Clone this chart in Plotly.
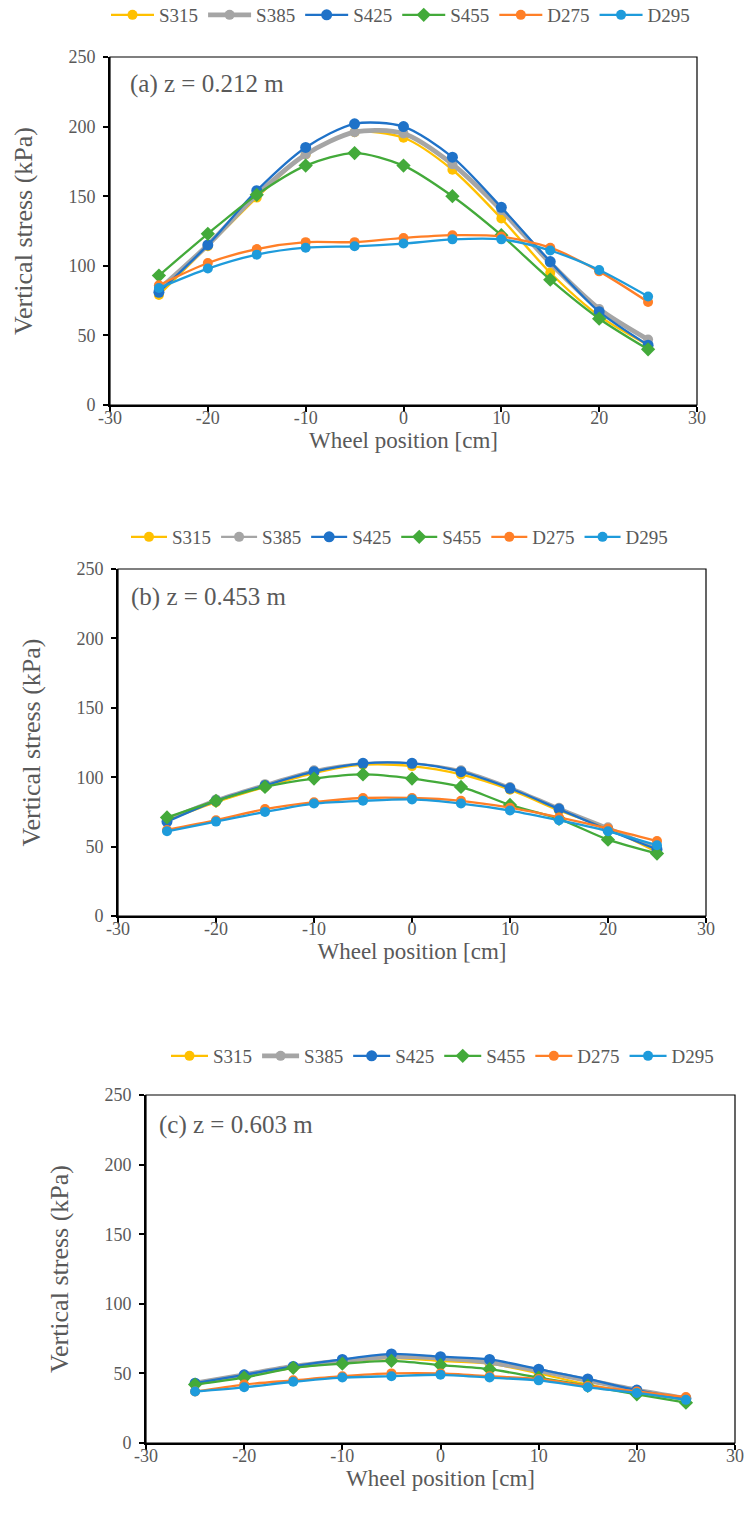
import plotly.graph_objects as go

# Wheel positions (cm)
positions = [-25, -20, -15, -10, -5, 0, 5, 10, 15, 20, 25]
series_names = ["S315", "S385", "S425", "S455", "D275", "D295"]

# Vertical stress (kPa) at z = 0.212 m
a_S315 = [79, 114, 149, 180, 196, 192, 169, 134, 95, 64, 43]
a_S385 = [83, 115, 151, 180, 196, 195, 173, 140, 102, 69, 47]
a_S425 = [81, 115, 154, 185, 202, 200, 178, 142, 103, 67, 43]
a_S455 = [93, 123, 151, 172, 181, 172, 150, 122, 90, 62, 40]
a_D275 = [86, 102, 112, 117, 117, 120, 122, 121, 113, 96, 74]
a_D295 = [84, 98, 108, 113, 114, 116, 119, 119, 111, 97, 78]

# Vertical stress (kPa) at z = 0.453 m
b_S315 = [69, 82, 93, 103, 109, 108, 102, 91, 76, 63, 46]
b_S385 = [70, 84, 95, 105, 110, 110, 105, 93, 78, 64, 49]
b_S425 = [68, 83, 94, 104, 110, 110, 104, 92, 77, 62, 48]
b_S455 = [71, 83, 93, 99, 102, 99, 93, 80, 70, 55, 45]
b_D275 = [62, 69, 77, 82, 85, 85, 83, 78, 71, 63, 54]
b_D295 = [61, 68, 75, 81, 83, 84, 81, 76, 69, 61, 51]

# Vertical stress (kPa) at z = 0.603 m
c_S315 = [42, 48, 54, 58, 61, 59, 57, 50, 42, 36, 31]
c_S385 = [43, 49, 55, 59, 62, 61, 58, 52, 45, 38, 32]
c_S425 = [43, 49, 55, 60, 64, 62, 60, 53, 46, 38, 32]
c_S455 = [42, 47, 54, 57, 59, 56, 53, 47, 41, 35, 29]
c_D275 = [37, 42, 45, 48, 50, 50, 48, 46, 41, 37, 33]
c_D295 = [37, 40, 44, 47, 48, 49, 47, 45, 40, 36, 31]

panel_labels = ["(a) z = 0.212 m", "(b) z = 0.453 m", "(c) z = 0.603 m"]
x_ticks = [-30, -20, -10, 0, 10, 20, 30]
x_tick_text = ["-30", "-20", "-10", "0", "10", "20", "30"]
y_ticks = [0, 50, 100, 150, 200, 250]

panels = [
    [a_S315, a_S385, a_S425, a_S455, a_D275, a_D295],
    [b_S315, b_S385, b_S425, b_S455, b_D275, b_D295],
    [c_S315, c_S385, c_S425, c_S455, c_D275, c_D295],
]

colors = ["#FFC000", "#A5A5A5", "#1F72C8", "#43AA3A", "#FF7F27", "#1E9BDB"]
symbols = ["circle", "circle", "circle", "diamond", "circle", "circle"]
marker_sizes = [10, 10, 11, 11, 10, 10]
# the grey S385 line is drawn heavier in panels (a) and (c)
grey_widths = [4.8, 2.2, 4.8]

W, H = 744, 1517
# plot-area boxes in pixels: (left, right, top, bottom)
boxes = [(110, 697, 57, 405), (118, 706, 569, 916), (146, 735, 1095, 1443)]
legend_y_px = [15, 537, 1056]
legend_x_px = [106, 126, 166]
legend_item_w = [43, 36, 37]
label_px = [(128, 84), (129, 597), (157, 1125)]

GREY = "#595959"
FONT = "Liberation Serif"

fig = go.Figure()
layout = dict(
    width=W, height=H, margin=dict(l=0, r=0, t=0, b=0, autoexpand=False),
    paper_bgcolor="white", plot_bgcolor="white",
    font=dict(family=FONT, color=GREY),
    showlegend=True, shapes=[], annotations=[],
)

for p, data in enumerate(panels):
    suffix = "" if p == 0 else str(p + 1)
    xa, ya = "x" + suffix, "y" + suffix
    leg = "legend" + suffix
    for i, name in enumerate(series_names):
        width = grey_widths[p] if i == 1 else 2.3
        fig.add_trace(go.Scatter(
            x=positions, y=data[i], name=name, mode="lines+markers",
            line=dict(color=colors[i], width=width, shape="spline", smoothing=0.8),
            marker=dict(symbol=symbols[i], size=marker_sizes[i], color=colors[i]),
            xaxis=xa, yaxis=ya, legend=leg,
        ))
    l, r, t, b = boxes[p]
    dom_x = [l / W, r / W]
    dom_y = [1 - b / H, 1 - t / H]
    layout["xaxis" + suffix] = dict(
        domain=dom_x, anchor=ya, range=[-30, 30], tickvals=x_ticks, ticktext=x_tick_text,
        showline=True, linecolor="black", linewidth=2, showgrid=False, zeroline=False,
        ticks="outside", ticklen=5, tickwidth=1.5, tickcolor="black",
        ticklabelstandoff=-10,
        tickfont=dict(size=18, color=GREY, family=FONT),
        title=dict(text="Wheel position [cm]", font=dict(size=23, color=GREY, family=FONT), standoff=0),
    )
    layout["yaxis" + suffix] = dict(
        domain=dom_y, anchor=xa, range=[0, 250], tickvals=y_ticks,
        showline=True, linecolor="black", linewidth=2, showgrid=False, zeroline=False,
        ticks="outside", ticklen=5, tickwidth=1.5, tickcolor="black",
        ticklabelstandoff=4,
        tickfont=dict(size=18, color=GREY, family=FONT),
        title=dict(text="Vertical stress (kPa)", font=dict(size=26, color=GREY, family=FONT), standoff=28),
    )
    layout["shapes"].append(dict(
        type="rect", xref="paper", yref="paper",
        x0=dom_x[0], x1=dom_x[1], y0=dom_y[0], y1=dom_y[1],
        line=dict(color="black", width=1.2), layer="above",
    ))
    layout[leg] = dict(
        orientation="h", x=legend_x_px[p] / W, y=1 - legend_y_px[p] / H,
        xanchor="left", yanchor="middle", xref="paper", yref="paper",
        font=dict(size=19, color=GREY, family=FONT),
        itemwidth=legend_item_w[p], bgcolor="rgba(0,0,0,0)",
    )
    lx, ly = label_px[p]
    layout["annotations"].append(dict(
        text=panel_labels[p], xref="paper", yref="paper",
        x=lx / W, y=1 - ly / H, xanchor="left", yanchor="middle",
        showarrow=False, font=dict(size=25, color=GREY, family=FONT),
    ))

fig.update_layout(**layout)
fig.write_html("out.html")
